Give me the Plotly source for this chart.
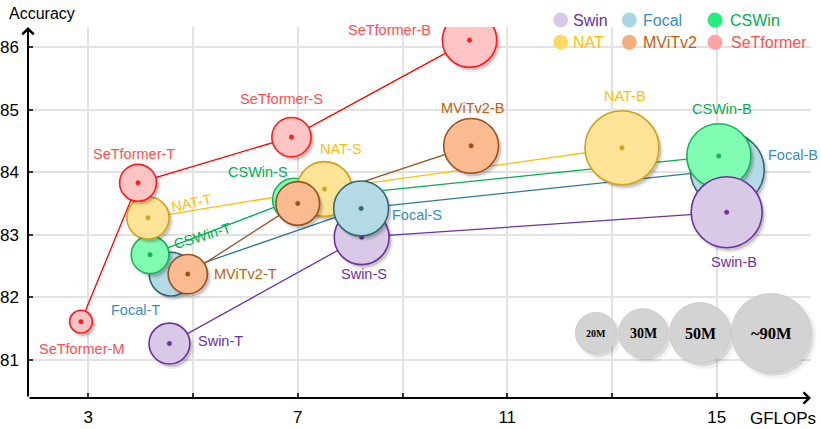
import numpy as np
import plotly.graph_objects as go

# ---------------- data ----------------
swin_names = ["Swin-T", "Swin-S", "Swin-B"]
swin_gflops = [4.55, 8.22, 15.19]
swin_acc = [81.26, 82.96, 83.36]
swin_params = [28, 50, 83]

focal_names = ["Focal-T", "Focal-S", "Focal-B"]
focal_gflops = [4.58, 8.21, 15.20]
focal_acc = [82.37, 83.42, 84.04]
focal_params = [32, 50, 90]

cswin_names = ["CSWin-T", "CSWin-S", "CSWin-B"]
cswin_gflops = [4.18, 6.93, 15.04]
cswin_acc = [82.68, 83.56, 84.26]
cswin_params = [24, 31, 68]

nat_names = ["NAT-T", "NAT-S", "NAT-B"]
nat_gflops = [4.14, 7.51, 13.19]
nat_acc = [83.27, 83.73, 84.39]
nat_params = [30, 50, 90]

mvit_names = ["MViTv2-T", "MViTv2-S", "MViTv2-B"]
mvit_gflops = [4.90, 7.00, 10.31]
mvit_acc = [82.37, 83.50, 84.42]
mvit_params = [26, 32, 50]

setf_names = ["SeTformer-M", "SeTformer-T", "SeTformer-S", "SeTformer-B"]
setf_gflops = [2.86, 3.95, 6.88, 10.28]
setf_acc = [81.61, 83.83, 84.56, 86.11]
setf_params = [9, 23, 26, 49]

size_legend_params = [20, 30, 50, 90]
size_legend_labels = ["20M", "30M", "50M", "~90M"]

x_ticks = [3, 5, 7, 9, 11, 13, 15]
x_ticklabels = ["3", "", "7", "", "11", "", "15"]
y_ticks = [81, 82, 83, 84, 85, 86]

# ---------------- styles ----------------
families = {
    "Swin": dict(names=swin_names, x=swin_gflops, y=swin_acc, p=swin_params,
                 fill="#d8c9e6", edge="#7030a0", line="#7030a0", text="#7030a0", leg="#d9c9e9"),
    "Focal": dict(names=focal_names, x=focal_gflops, y=focal_acc, p=focal_params,
                  fill="#b4dbe5", edge="#2f6878", line="#2e7b95", text="#3a8dba", leg="#a9d6e3"),
    "CSWin": dict(names=cswin_names, x=cswin_gflops, y=cswin_acc, p=cswin_params,
                  fill="#80fdb3", edge="#19b25a", line="#00b050", text="#00b050", leg="#25ef7b"),
    "NAT": dict(names=nat_names, x=nat_gflops, y=nat_acc, p=nat_params,
                fill="#ffe396", edge="#d2a21c", line="#ffc000", text="#ffc000", leg="#ffd966"),
    "MViTv2": dict(names=mvit_names, x=mvit_gflops, y=mvit_acc, p=mvit_params,
                   fill="#fbbb90", edge="#9c4f1c", line="#9c4f1c", text="#c0600f", leg="#f4ae7c"),
    "SeTformer": dict(names=setf_names, x=setf_gflops, y=setf_acc, p=setf_params,
                      fill="#ffc5c5", edge="#ff1a1a", line="#ff0000", text="#ff5050", leg="#ffa3a3"),
}

# label offsets in pixels (dx right, dy down) and rotation
label_pos = {
    "SeTformer-M": (1, 27, 0), "SeTformer-T": (-4, -29, 0), "SeTformer-S": (-10, -38, 0),
    "SeTformer-B": (-80, -10, 0),
    "NAT-T": (44, -15, -12), "NAT-S": (17, -40, 0), "NAT-B": (3, -52, 0),
    "CSWin-T": (52, -19, -17), "CSWin-S": (-36, -28, 0), "CSWin-B": (3, -47, 0),
    "Focal-T": (-36, 36, 0), "Focal-S": (56, 7, 0), "Focal-B": (66, -15, 0),
    "Swin-T": (51, -3, 0), "Swin-S": (2, 37, 0), "Swin-B": (7, 50, 0),
    "MViTv2-T": (58, 0, 0), "MViTv2-B": (1, -38, 0),
}

# drawing order bottom -> top
draw_order = ["Focal-T", "CSWin-T", "NAT-T", "SeTformer-T", "MViTv2-T", "Swin-T", "SeTformer-M",
              "CSWin-S", "NAT-S", "MViTv2-S", "Swin-S", "Focal-S", "SeTformer-S",
              "Focal-B", "CSWin-B", "Swin-B", "NAT-B", "MViTv2-B", "SeTformer-B"]

W, H = 821, 429
ML, MR, MT, MB = 28, 10, 27, 31
XR = [1.849, 16.80]
YR = [80.39, 86.32]
px_per_x = (W - ML - MR) / (XR[1] - XR[0])
px_per_y = (H - MT - MB) / (YR[1] - YR[0])


def diam(p):
    return 2 * 3.95 * np.sqrt(p) - 1


def legend_radius(p):
    return 3.6 + 3.79 * np.sqrt(p)


FONT = "Liberation Sans, Arial, sans-serif"

fig = go.Figure()

# connecting lines
for fam, d in families.items():
    fig.add_trace(go.Scatter(x=d["x"], y=d["y"], mode="lines",
                             line=dict(color=d["line"], width=1.3),
                             hoverinfo="skip", showlegend=False))

lookup = {}
for fam, d in families.items():
    for i, n in enumerate(d["names"]):
        lookup[n] = (fam, i)

sx = 2.5 / px_per_x
sy = 3.0 / px_per_y
for n in draw_order:
    fam, i = lookup[n]
    d = families[fam]
    x, y, s = d["x"][i], d["y"][i], diam(d["p"][i])
    # soft shadow
    fig.add_trace(go.Scatter(x=[x + sx * 1.2], y=[y - sy * 1.2], mode="markers",
                             marker=dict(size=s + 3, color="rgba(0,0,0,0.07)", line=dict(width=0)),
                             hoverinfo="skip", showlegend=False))
    fig.add_trace(go.Scatter(x=[x + sx], y=[y - sy], mode="markers",
                             marker=dict(size=s, color="rgba(0,0,0,0.16)", line=dict(width=0)),
                             hoverinfo="skip", showlegend=False))
    fig.add_trace(go.Scatter(x=[x], y=[y], mode="markers",
                             marker=dict(size=s, color=d["fill"], line=dict(color=d["edge"], width=1.6)),
                             name=n, showlegend=False))
    fig.add_trace(go.Scatter(x=[x], y=[y], mode="markers",
                             marker=dict(size=4.5, color=d["edge"], line=dict(color=d["edge"], width=0.5)),
                             hoverinfo="skip", showlegend=False))

# point labels
for fam, d in families.items():
    for i, n in enumerate(d["names"]):
        if n not in label_pos:
            continue
        dx, dy, ang = label_pos[n]
        fig.add_annotation(x=d["x"][i], y=d["y"][i], text=n, showarrow=False,
                           xshift=dx, yshift=-dy, textangle=ang, xanchor="center", yanchor="middle",
                           font=dict(family=FONT, size=14.5, color=d["text"]))

# axes arrows
fig.add_annotation(xref="x domain", yref="y domain", axref="x domain", ayref="y domain",
                   x=1.0, y=0, ax=0, ay=0, showarrow=True, arrowhead=4, arrowsize=1.1,
                   arrowwidth=2, arrowcolor="black", text="")
fig.add_annotation(xref="x domain", yref="y domain", axref="x domain", ayref="y domain",
                   x=0, y=1.0, ax=0, ay=0, showarrow=True, arrowhead=4, arrowsize=1.1,
                   arrowwidth=2, arrowcolor="black", text="")

PW, PH = W - ML - MR, H - MT - MB


def paper(px, py):
    return (px - ML) / PW, (H - MB - py) / PH


ax_, ay_ = paper(7, 13)
fig.add_annotation(xref="paper", yref="paper", x=ax_, y=ay_,
                   text="Accuracy", showarrow=False, xanchor="left", yanchor="middle",
                   font=dict(family=FONT, size=16, color="black"))
gx_, gy_ = paper(783, 418)
fig.add_annotation(xref="paper", yref="paper", x=gx_, y=gy_,
                   text="GFLOPs", showarrow=False, xanchor="center", yanchor="middle",
                   font=dict(family=FONT, size=17, color="black"))

# family legend (manual)
leg_layout = [("Swin", 560.7, 20, 572), ("Focal", 629.3, 20, 641.5), ("CSWin", 715, 20, 729),
              ("NAT", 560.7, 42.3, 572), ("MViTv2", 629.3, 42.3, 641.5), ("SeTformer", 715, 42.3, 730)]
for fam, cx, cy, tx in leg_layout:
    px_, py_ = paper(cx, cy)
    fig.add_shape(type="circle", xref="paper", yref="paper", xsizemode="pixel", ysizemode="pixel",
                  xanchor=px_, yanchor=py_, x0=-7.5, x1=7.5, y0=-7.5, y1=7.5,
                  fillcolor=families[fam]["leg"], line=dict(width=0))
    tpx, tpy = paper(tx, cy)
    fig.add_annotation(xref="paper", yref="paper", x=tpx, y=tpy, text=fam, showarrow=False,
                       xanchor="left", yanchor="middle", borderpad=0,
                       font=dict(family=FONT, size=16, color=families[fam]["text"]))

# size legend
size_centers = [596, 643, 700, 771]
size_fonts = [10, 14, 16, 16.5]
for p, lab, cx, fs in zip(size_legend_params, size_legend_labels, size_centers, size_fonts):
    r = legend_radius(p)
    px_, py_ = paper(cx, 333)
    for off, a, grow in [(4, 0.05, 2), (3, 0.10, 0)]:
        fig.add_shape(type="circle", xref="paper", yref="paper", xsizemode="pixel", ysizemode="pixel",
                      xanchor=px_, yanchor=py_, x0=-r - grow + off, x1=r + grow + off,
                      y0=-r - grow - off, y1=r + grow - off,
                      fillcolor=f"rgba(0,0,0,{a})", line=dict(width=0))
    fig.add_shape(type="circle", xref="paper", yref="paper", xsizemode="pixel", ysizemode="pixel",
                  xanchor=px_, yanchor=py_, x0=-r, x1=r, y0=-r, y1=r,
                  fillcolor="#d3d3d3", line=dict(color="#cdcdcd", width=1))
    fig.add_annotation(xref="paper", yref="paper", x=px_, y=py_, text=f"<b>{lab}</b>", showarrow=False,
                       xanchor="center", yanchor="middle",
                       font=dict(family="Liberation Serif, Times New Roman, serif", size=fs, color="black"))

fig.update_layout(
    width=W, height=H, margin=dict(l=ML, r=MR, t=MT, b=MB),
    plot_bgcolor="white", paper_bgcolor="white", showlegend=False,
    xaxis=dict(range=XR, tickvals=x_ticks, ticktext=x_ticklabels, showgrid=True,
               gridcolor="#e2e2e2", gridwidth=1.5, zeroline=False, showline=False,
               ticks="inside", ticklen=5, tickwidth=1.5, tickcolor="#333", ticklabelstandoff=7,
               tickfont=dict(family=FONT, size=17, color="black"), automargin=False),
    yaxis=dict(range=YR, tickvals=y_ticks, showgrid=True, gridcolor="#e2e2e2", gridwidth=1.5,
               zeroline=False, showline=False, ticks="inside", ticklen=5, tickwidth=1.5,
               tickcolor="#333", ticklabelstandoff=8, tickfont=dict(family=FONT, size=17, color="black"),
               automargin=False),
)

fig.write_html("out.html")
